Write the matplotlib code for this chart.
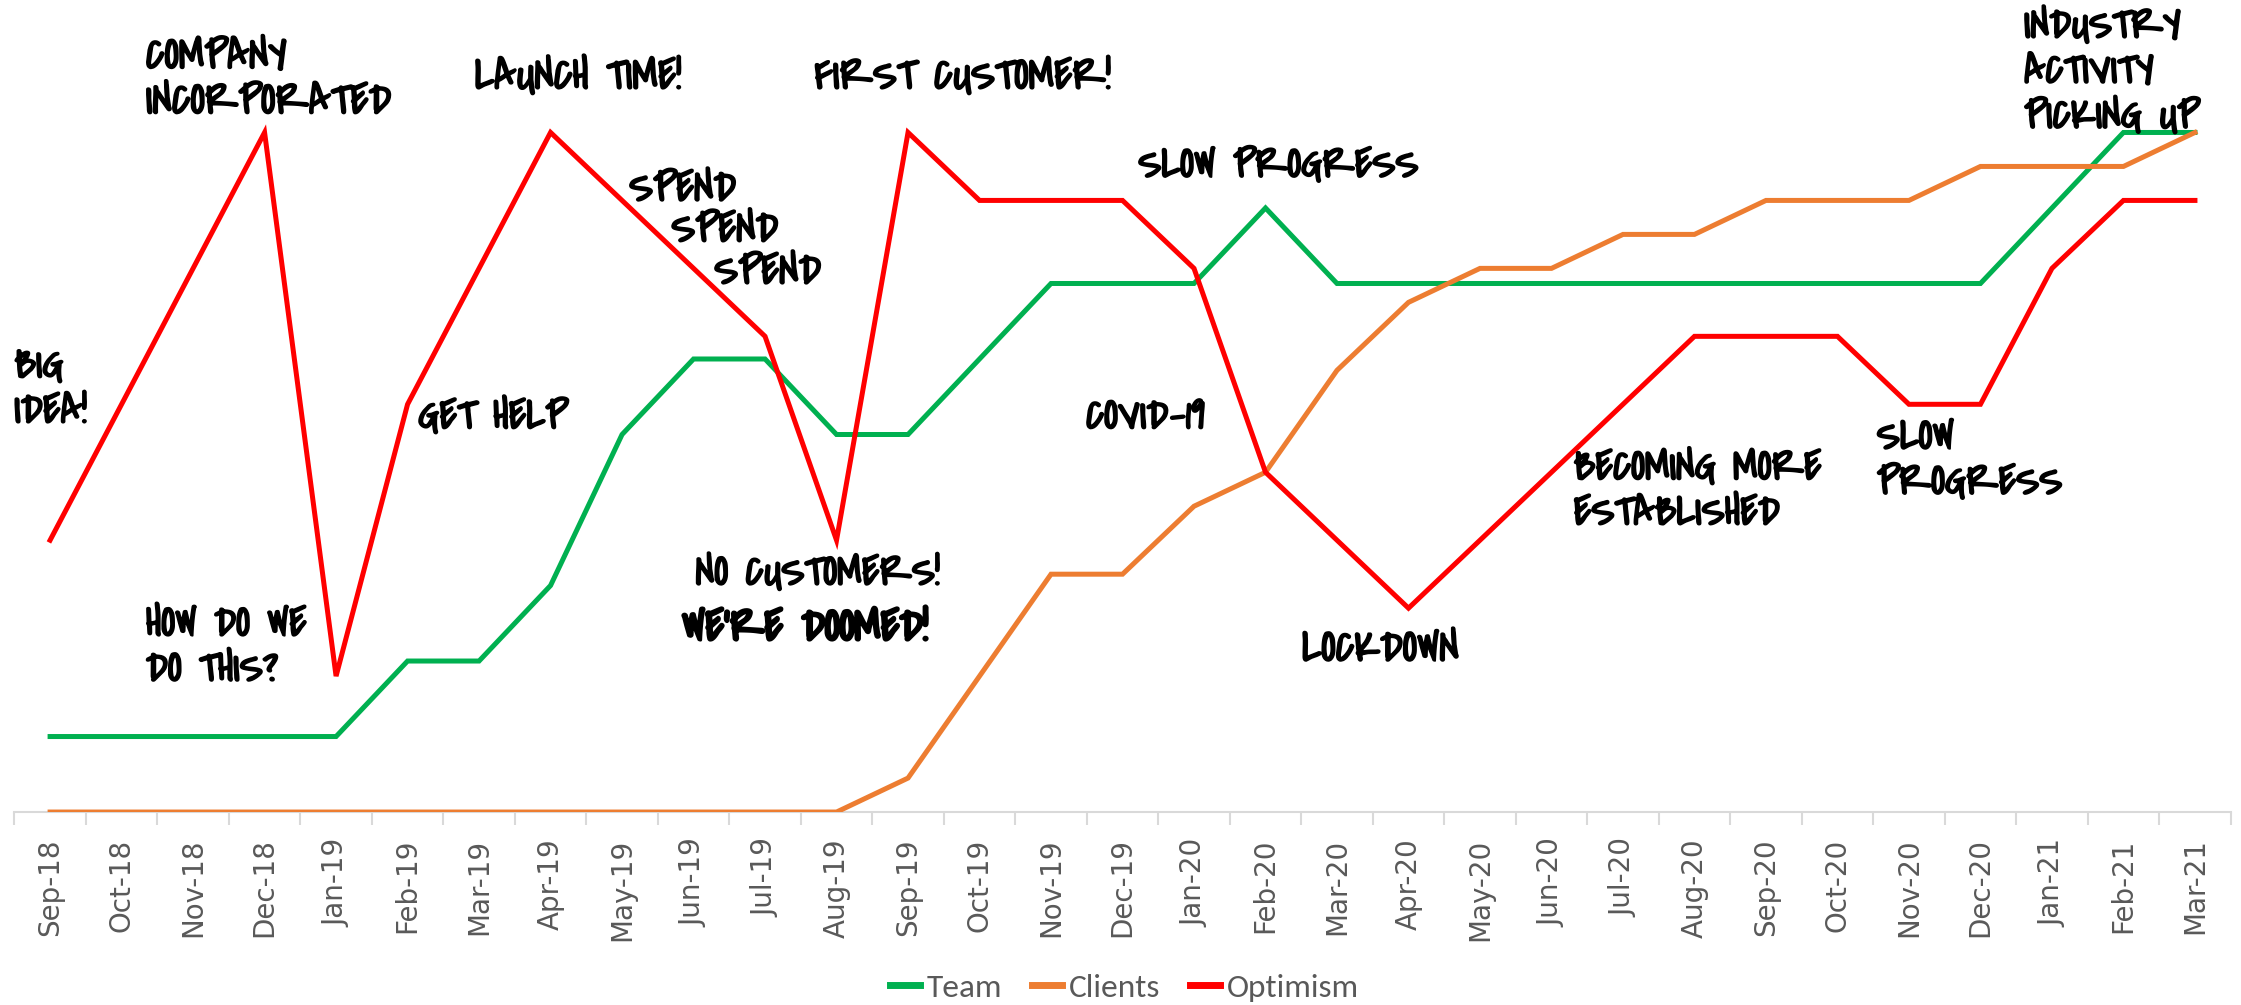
import matplotlib
matplotlib.use("Agg")
import matplotlib.pyplot as plt
from matplotlib.lines import Line2D
from matplotlib import patheffects

months = ["Sep-18", "Oct-18", "Nov-18", "Dec-18", "Jan-19", "Feb-19", "Mar-19",
          "Apr-19", "May-19", "Jun-19", "Jul-19", "Aug-19", "Sep-19", "Oct-19",
          "Nov-19", "Dec-19", "Jan-20", "Feb-20", "Mar-20", "Apr-20", "May-20",
          "Jun-20", "Jul-20", "Aug-20", "Sep-20", "Oct-20", "Nov-20", "Dec-20",
          "Jan-21", "Feb-21", "Mar-21"]

# team size (its own scale, max 9)
team = [1, 1, 1, 1, 1, 2, 2, 3, 5, 6, 6, 5, 5, 6, 7, 7, 7, 8, 7, 7, 7,
        7, 7, 7, 7, 7, 7, 7, 8, 9, 9]
# clients and optimism on a 0-10 scale
clients = [0, 0, 0, 0, 0, 0, 0, 0, 0, 0, 0, 0, 0.5, 2, 3.5, 3.5, 4.5, 5, 6.5,
           7.5, 8, 8, 8.5, 8.5, 9, 9, 9, 9.5, 9.5, 9.5, 10]
optimism = [4, 6, 8, 10, 2, 6, 8, 10, 9, 8, 7, 4, 10, 9, 9, 9, 8, 5, 4, 3, 4,
            5, 6, 7, 7, 7, 6, 6, 8, 9, 9]

# (text, x position in months, y position, size, stroke)
notes = [
    ("BIG\nIDEA!", -0.5, 6.85, 31, 1.2),
    ("COMPANY\nINCORPORATED", 1.34, 11.4, 32, 1.2),
    ("LAUNCH TIME!", 5.94, 11.1, 32, 1.2),
    ("FIRST CUSTOMER!", 10.69, 11.1, 32, 1.2),
    ("SPEND", 8.10, 9.45, 32, 1.2),
    ("SPEND", 8.69, 8.85, 32, 1.2),
    ("SPEND", 9.29, 8.23, 32, 1.2),
    ("GET HELP", 5.15, 6.1, 31, 1.2),
    ("COVID-19", 14.49, 6.1, 31, 1.2),
    ("SLOW PROGRESS", 15.22, 9.8, 31, 1.2),
    ("INDUSTRY\nACTIVITY\nPICKING UP", 27.61, 11.85, 31, 1.2),
    ("BECOMING MORE\nESTABLISHED", 21.31, 5.35, 31, 1.2),
    ("SLOW\nPROGRESS", 25.55, 5.8, 31, 1.2),
    ("HOW DO WE\nDO THIS?", 1.34, 3.05, 31, 1.2),
    ("NO CUSTOMERS!", 9.03, 3.8, 31, 1.2),
    ("WE'RE DOOMED!", 8.84, 3.0, 33, 2.0),
    ("LOCKDOWN", 17.51, 2.68, 32, 1.2),
]

GREEN = "#00b050"
ORANGE = "#ed7d31"
RED = "#ff0000"
AXIS_GREY = "#d9d9d9"
LABEL_GREY = "#595959"
hand = ["Covered By Your Grace", "DejaVu Sans"]
legend_font = ["Carlito", "PT Sans Narrow", "DejaVu Sans"]

fig = plt.figure(figsize=(22.41, 10.05), dpi=100)
fig.patch.set_facecolor("white")
ax = fig.add_axes([0.0064, 0.192, 0.9890, 0.710])
ax2 = ax.twinx()

x = list(range(len(months)))

ax.plot(x, team, color=GREEN, lw=3.6, solid_joinstyle="miter")
ax2.plot(x, clients, color=ORANGE, lw=3.6, solid_joinstyle="miter")
ax2.plot(x, optimism, color=RED, lw=3.6, solid_joinstyle="miter")

ax.set_xlim(-0.5, len(months) - 0.5)
ax.set_ylim(0, 9.45)
ax2.set_ylim(0, 10.5)

for a in (ax, ax2):
    for side in ("top", "left", "right"):
        a.spines[side].set_visible(False)
    a.set_yticks([])
ax2.spines["bottom"].set_visible(False)
ax.spines["bottom"].set_color(AXIS_GREY)
ax.spines["bottom"].set_linewidth(1.5)

ax.set_xticks(x)
ax.set_xticklabels(months, rotation=90, color=LABEL_GREY, fontsize=20)
ax.tick_params(axis="x", which="major", length=0, pad=19)
ax.set_xticks([i - 0.5 for i in range(len(months) + 1)], minor=True)
ax.tick_params(axis="x", which="minor", length=9.4, width=1.5, color=AXIS_GREY)

for text, tx, ty, size, stroke in notes:
    ax2.text(tx, ty, text, ha="left", va="top", fontsize=size,
             family=hand, fontweight="bold", linespacing=1.07,
             clip_on=False, color="black",
             path_effects=[patheffects.withStroke(linewidth=stroke, foreground="black")])

handles = [Line2D([], [], color=GREEN, lw=5),
           Line2D([], [], color=ORANGE, lw=5),
           Line2D([], [], color=RED, lw=5)]
fig.legend(handles, ["Team", "Clients", "Optimism"], loc="lower center",
           bbox_to_anchor=(0.5016, -0.017), ncol=3, frameon=False,
           prop={"family": legend_font, "size": 24}, labelcolor=LABEL_GREY,
           handlelength=0.9, handletextpad=0.2, columnspacing=0.9,
           borderpad=0.1)

fig.savefig("out.png", dpi=100)
